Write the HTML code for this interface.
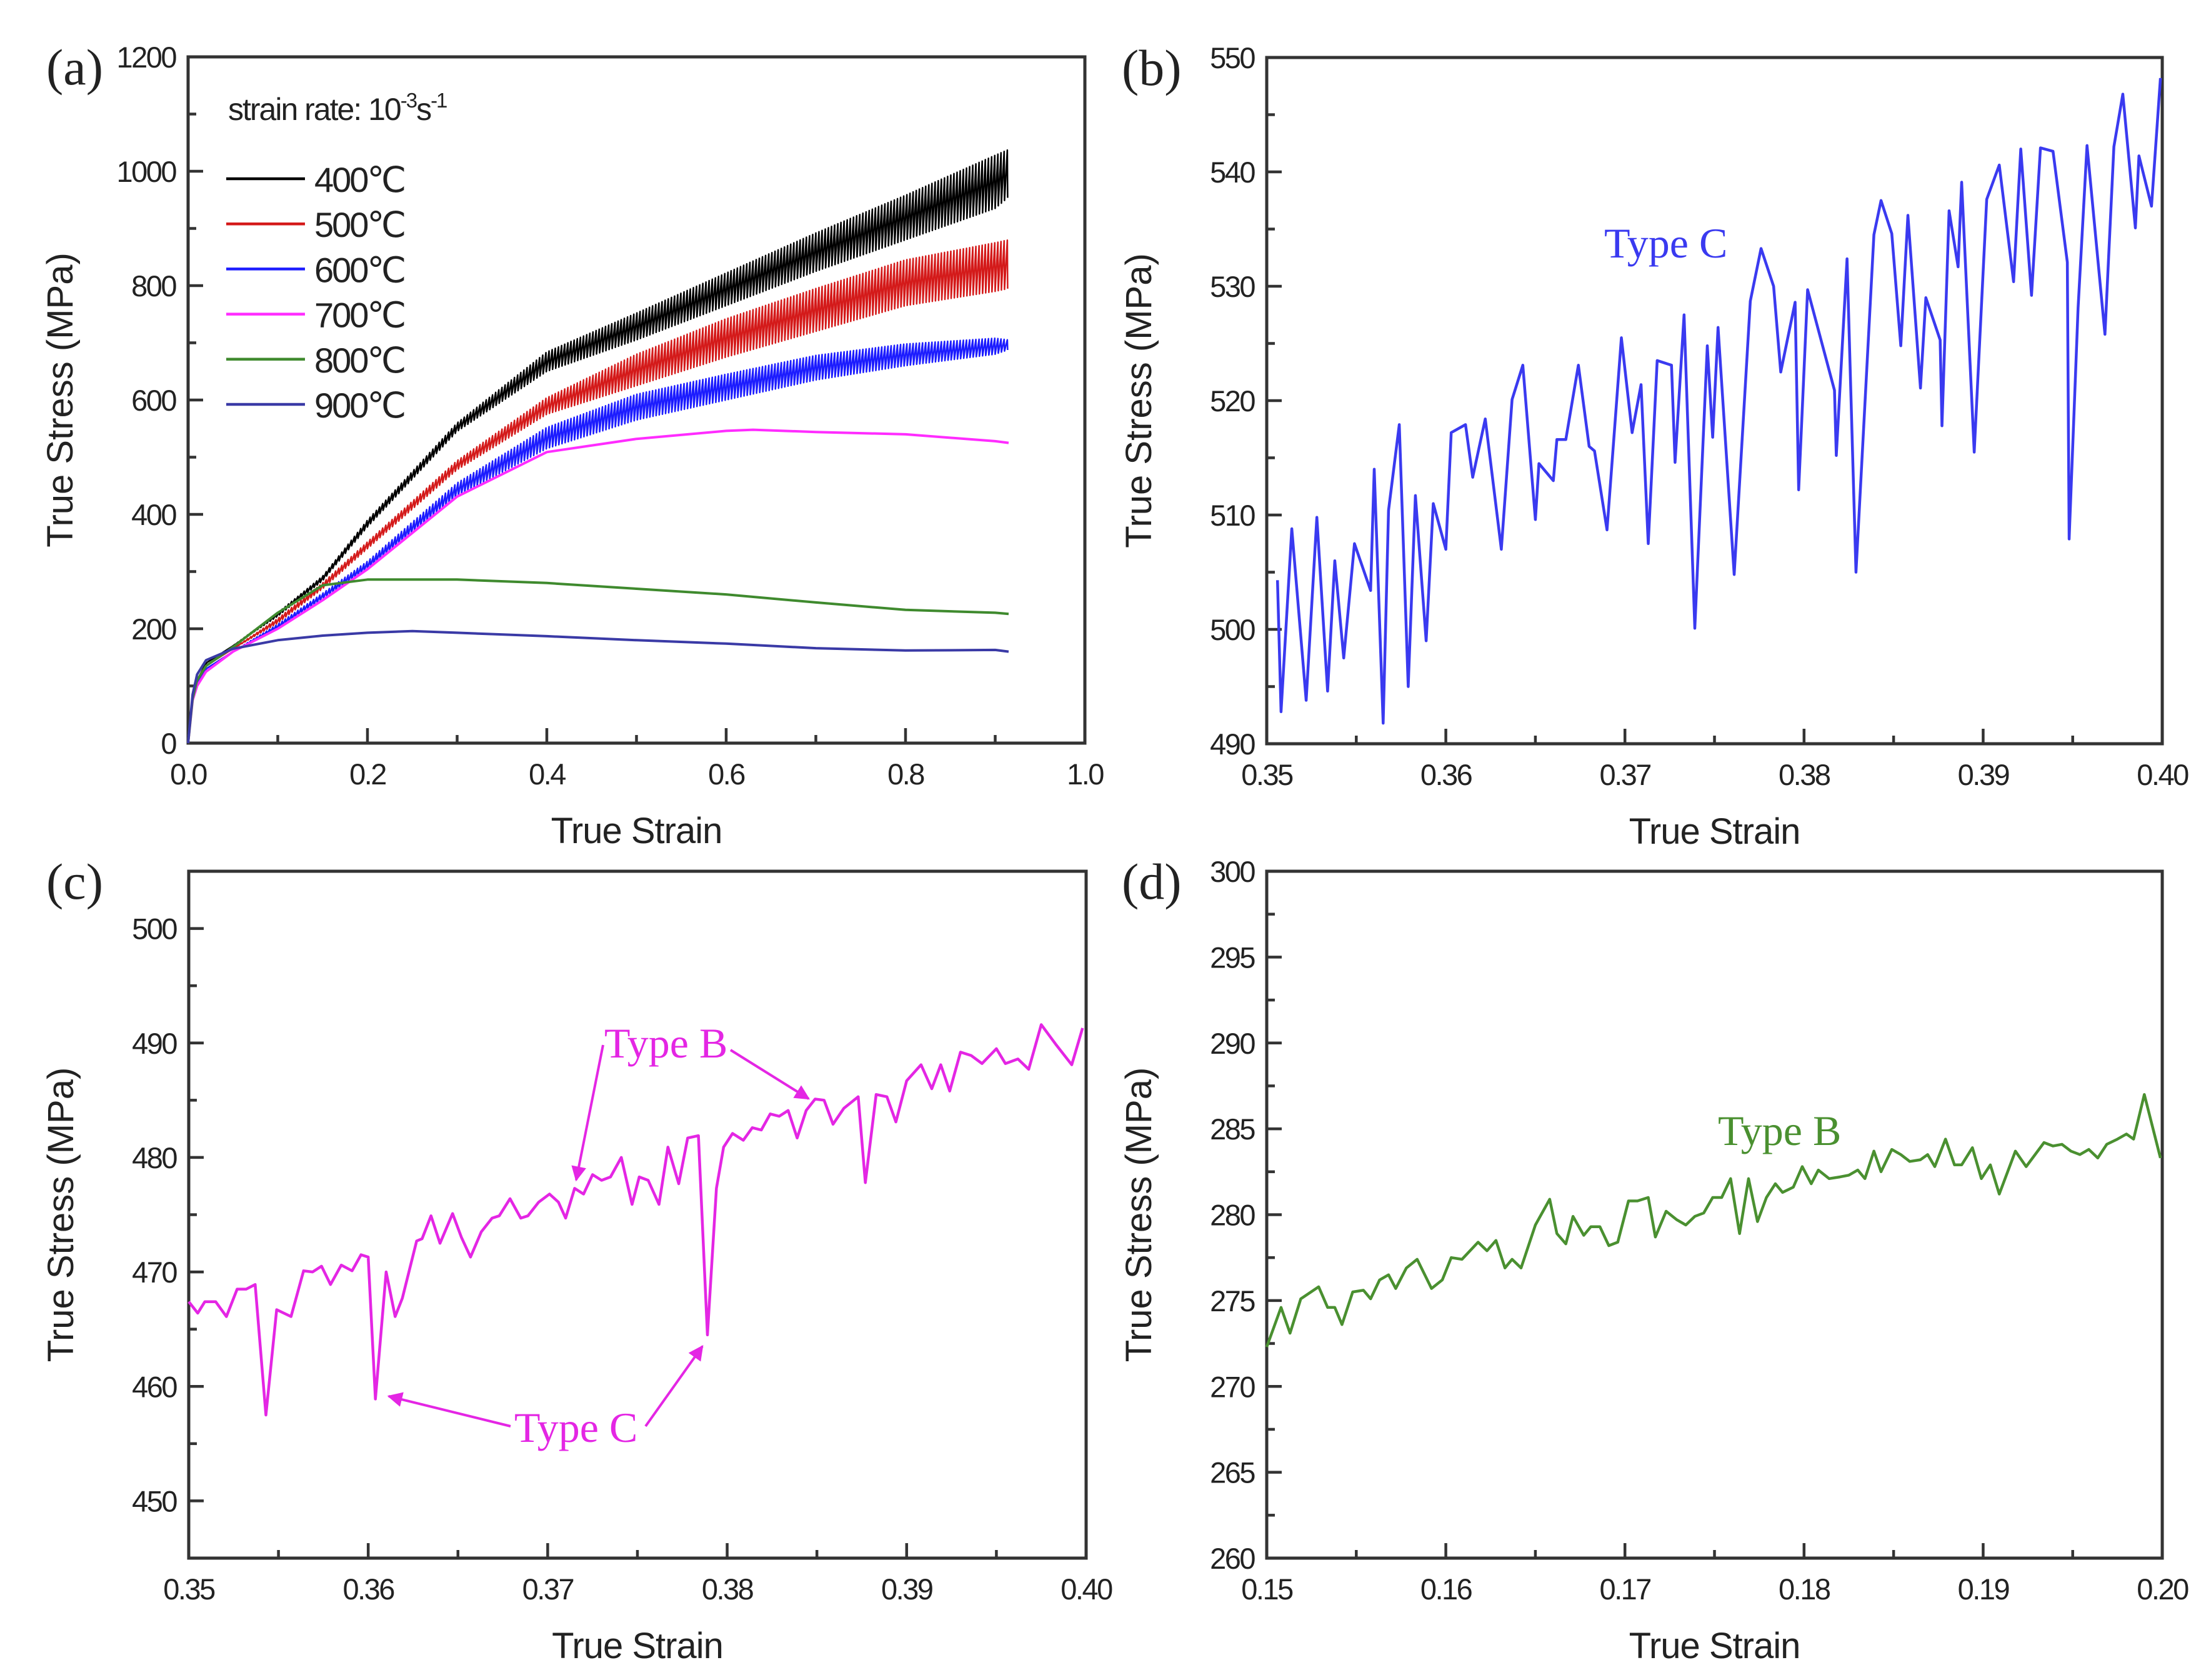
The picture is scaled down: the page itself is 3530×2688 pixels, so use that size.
<!DOCTYPE html>
<html><head><meta charset="utf-8"><style>
html,body{margin:0;padding:0;background:#fff;}
svg{display:block;}
text{font-family:"Liberation Sans",sans-serif;fill:#222;}
.serif{font-family:"Liberation Serif",serif;}
</style></head><body>
<svg id="fig" width="3530" height="2688" viewBox="0 0 3530 2688" xmlns="http://www.w3.org/2000/svg"></svg>
<script>
// ---------- Panel (a) data ----------
const aStrain = [0,0.005,0.01,0.02,0.05,0.1,0.15,0.2,0.3,0.4,0.5,0.6,0.7,0.8,0.9,0.915];
const a400Upper = [0,80,110,140,170,228,292,390,560,684,752,822,892,958,1028,1038];
const a400Lower = [0,80,110,140,170,222,284,378,545,650,705,765,825,880,935,955];
const a500Upper = [0,80,108,135,165,218,280,352,494,604,680,742,795,845,875,880];
const a500Lower = [0,80,108,135,165,210,270,340,478,575,625,675,720,765,790,795];
const a600Upper = [0,78,105,130,160,208,262,318,455,552,610,645,678,698,708,705];
const a600Lower = [0,78,105,130,160,200,252,304,432,515,565,600,635,660,680,688];
const a700Strain = [0,0.005,0.01,0.02,0.05,0.1,0.15,0.2,0.3,0.4,0.5,0.6,0.63,0.7,0.8,0.9,0.915];
const a700Stress = [0,75,100,125,160,200,250,304,431,509,532,546,548,544,540,528,525];
const a800Strain = [0,0.005,0.01,0.02,0.05,0.1,0.15,0.2,0.3,0.4,0.5,0.6,0.7,0.8,0.9,0.915];
const a800Stress = [0,78,110,135,168,228,276,286,286,280,270,260,246,233,228,226];
const a900Strain = [0,0.005,0.01,0.02,0.05,0.1,0.15,0.2,0.25,0.3,0.4,0.5,0.6,0.7,0.8,0.9,0.915];
const a900Stress = [0,85,120,145,165,180,188,193,196,193,187,180,174,166,162,163,160];
const aLegendLabels = ["400℃","500℃","600℃","700℃","800℃","900℃"];
const aXTicks = [0,0.2,0.4,0.6,0.8,1.0];
const aXTickLabels = ["0.0","0.2","0.4","0.6","0.8","1.0"];
const aYTicks = [0,200,400,600,800,1000,1200];

// ---------- Panel (b) data ----------
const bStrain = [.3506,.3508,.3514,.3522,.3528,.3534,.3538,.3543,.3549,.3558,.3560,.3565,.3568,.3574,.3579,.3583,.3589,.3593,.3600,.3603,.3611,.3615,.3622,.3631,.3637,.3643,.3650,.3652,.3660,.3662,.3667,.3674,.3680,.3683,.3690,.3698,.3704,.3709,.3713,.3718,.3726,.3728,.3733,.3739,.3746,.3749,.3752,.3761,.3770,.3776,.3783,.3787,.3795,.3797,.3802,.3817,.3818,.3824,.3829,.3839,.3843,.3849,.3854,.3858,.3865,.3868,.3876,.3877,.3881,.3886,.3888,.3895,.3902,.3909,.3917,.3921,.3927,.3932,.3939,.3947,.3948,.3953,.3958,.3968,.3973,.3978,.3985,.3987,.3994,.3999];
const bStress = [504.3,492.8,508.8,493.8,509.8,494.6,506,497.5,507.5,503.4,514,491.8,510.4,517.9,495,511.7,499,511,507,517.2,517.9,513.3,518.4,507,520.1,523.1,509.6,514.5,513.0,516.6,516.6,523.1,516,515.6,508.7,525.5,517.2,521.4,507.5,523.5,523.1,514.6,527.5,500.1,524.8,516.8,526.4,504.8,528.7,533.3,530,522.5,528.6,512.2,529.7,520.9,515.2,532.4,505,534.5,537.5,534.6,524.8,536.2,521.1,529,525.3,517.8,536.6,531.7,539.1,515.5,537.6,540.6,530.4,542,529.2,542.1,541.8,532.1,507.9,528.1,542.3,525.8,542.2,546.8,535.1,541.4,537,548.2];
const bXTicks = [0.35,0.36,0.37,0.38,0.39,0.40];
const bXTickLabels = ["0.35","0.36","0.37","0.38","0.39","0.40"];
const bYTicks = [490,500,510,520,530,540,550];

// ---------- Panel (c) data ----------
const cStrain = [.3500,.3505,.3509,.3515,.3521,.3527,.3532,.3537,.3543,.3549,.3557,.3564,.3569,.3574,.3579,.3585,.3591,.3596,.3600,.3604,.3610,.3615,.3619,.3627,.3630,.3635,.3640,.3647,.3652,.3657,.3663,.3669,.3673,.3679,.3685,.3689,.3695,.3701,.3706,.3710,.3715,.3720,.3725,.3730,.3735,.3741,.3747,.3751,.3756,.3762,.3767,.3773,.3778,.3784,.3789,.3794,.3798,.3803,.3809,.3814,.3819,.3824,.3829,.3834,.3839,.3844,.3849,.3854,.3859,.3865,.3873,.3877,.3883,.3889,.3894,.3900,.3908,.3914,.3919,.3924,.3930,.3936,.3942,.3950,.3955,.3962,.3968,.3975,.3983,.3992,.3998];
const cStress = [467.4,466.4,467.4,467.4,466.1,468.5,468.5,468.9,457.5,466.7,466.1,470.1,470.0,470.5,468.9,470.6,470.1,471.5,471.3,458.9,470,466.1,467.7,472.7,472.9,474.9,472.5,475.1,473,471.3,473.5,474.7,474.9,476.4,474.7,474.9,476.1,476.8,476.1,474.7,477.3,476.8,478.5,478,478.3,480,475.9,478.3,478,475.9,480.9,477.7,481.7,481.9,464.5,477.3,480.9,482.1,481.5,482.6,482.4,483.8,483.6,484.1,481.7,484.1,485.1,485,482.9,484.3,485.3,477.8,485.5,485.3,483.1,486.7,488.1,486,488.1,485.8,489.2,488.9,488.2,489.5,488.2,488.6,487.7,491.6,489.9,488.1,491.3];
const cXTicks = [0.35,0.36,0.37,0.38,0.39,0.40];
const cXTickLabels = ["0.35","0.36","0.37","0.38","0.39","0.40"];
const cYTicks = [450,460,470,480,490,500];

// ---------- Panel (d) data ----------
const dStrain = [.1500,.1508,.1513,.1519,.1529,.1534,.1538,.1542,.1548,.1554,.1558,.1563,.1568,.1572,.1578,.1584,.1592,.1598,.1603,.1609,.1618,.1623,.1628,.1633,.1637,.1642,.1650,.1658,.1662,.1667,.1671,.1677,.1681,.1686,.1691,.1696,.1702,.1707,.1713,.1717,.1723,.1729,.1734,.1739,.1744,.1749,.1754,.1759,.1764,.1769,.1774,.1779,.1784,.1788,.1794,.1799,.1804,.1808,.1814,.1820,.1825,.1830,.1834,.1839,.1843,.1849,.1854,.1859,.1865,.1869,.1873,.1879,.1884,.1888,.1894,.1899,.1904,.1909,.1918,.1924,.1934,.1939,.1944,.1949,.1954,.1959,.1964,.1969,.1975,.1980,.1984,.1990,.1999];
const dStress = [272.3,274.6,273.1,275.1,275.8,274.6,274.6,273.6,275.5,275.6,275.1,276.2,276.5,275.7,276.9,277.4,275.7,276.2,277.5,277.4,278.4,277.9,278.5,276.9,277.4,276.9,279.4,280.9,278.9,278.3,279.9,278.8,279.3,279.3,278.2,278.4,280.8,280.8,281,278.7,280.2,279.7,279.4,279.9,280.1,281,281,282.1,278.9,282.1,279.6,281,281.8,281.3,281.6,282.8,281.8,282.6,282.1,282.2,282.3,282.6,282.1,283.7,282.5,283.8,283.5,283.1,283.2,283.5,282.8,284.4,282.9,282.9,283.9,282.1,282.9,281.2,283.7,282.8,284.2,284,284.1,283.7,283.5,283.8,283.3,284.1,284.4,284.7,284.4,287,283.3];
const dXTicks = [0.15,0.16,0.17,0.18,0.19,0.20];
const dXTickLabels = ["0.15","0.16","0.17","0.18","0.19","0.20"];
const dYTicks = [260,265,270,275,280,285,290,295,300];

const NS = "http://www.w3.org/2000/svg";
const svg = document.getElementById("fig");
function mk(tag, attrs, parent) {
  const e = document.createElementNS(NS, tag);
  for (const k in attrs) e.setAttribute(k, attrs[k]);
  (parent || svg).appendChild(e);
  return e;
}
function txt(str, attrs, parent) { const t = mk("text", attrs, parent); t.textContent = str; return t; }
function scale(d0, d1, r0, r1) { return v => r0 + (v - d0) / (d1 - d0) * (r1 - r0); }

function panel(o) {
  const g = mk("g", {});
  
  
  const sx = scale(o.x0, o.x1, o.L, o.R), sy = scale(o.y0, o.y1, o.B, o.T);
  const tg = mk("g", {stroke:"#333","stroke-width":4.5}, g);
  
  
  o.xt.forEach((v,i) => {
    mk("line", {x1:sx(v), x2:sx(v), y1:o.B, y2:o.B-24}, tg);
    if (i < o.xt.length-1) { const m = (v + o.xt[i+1])/2; mk("line", {x1:sx(m), x2:sx(m), y1:o.B, y2:o.B-13}, tg); }
    const t = txt(o.xl[i], {x:sx(v), y:o.B+66, "text-anchor":"middle", "font-size":47, "letter-spacing":"-2.5"}, g);
    
    
  });
  const ys = o.yt[1]-o.yt[0];
  for (let v = o.yt[0]-ys; v <= o.yt[o.yt.length-1]+ys+1e-9; v += ys/2) {
    const vv = Math.round(v*1000)/1000;
    if (vv < Math.min(o.y0,o.y1)-1e-9 || vv > Math.max(o.y0,o.y1)+1e-9) continue;
    const major = o.yt.some(t => Math.abs(t-vv) < 1e-6);
    mk("line", {x1:o.L, x2:o.L+(major?24:13), y1:sy(vv), y2:sy(vv)}, tg);
  }
  o.yt.forEach(v => {
    const t = txt(String(v), {x:o.L-20, y:sy(v)+17, "text-anchor":"end", "font-size":47, "letter-spacing":"-2.5"}, g);
    
    
  });
  const fr = mk("rect", {x:o.L, y:o.T, width:o.R-o.L, height:o.B-o.T, fill:"none", stroke:"#333", "stroke-width":5}, g);
  
  
  const xt = txt("True Strain", {x:(o.L+o.R)/2, y:o.B+160, "text-anchor":"middle", "font-size":58, "letter-spacing":"-1"}, g);
  
  
  const cy = (o.T+o.B)/2;
  const yt = txt("True Stress (MPa)", {x:o.L-185, y:cy, "text-anchor":"middle", "font-size":58, transform:`rotate(-90 ${o.L-185} ${cy})`}, g);
  
  
  const pl = txt(o.label, {x:o.labelX, y:o.T+44, "font-size":82, class:"serif"}, g);
  
  
  return {g, sx, sy};
}
function polyline(g, xs, ys, sx, sy, color, w, name) {
  const p = mk("polyline", {points: xs.map((x,i)=>sx(x).toFixed(1)+","+sy(ys[i]).toFixed(1)).join(" "), fill:"none", stroke:color, "stroke-width":w, "stroke-linejoin":"round"}, g);
  
  
  return p;
}
function interp(xs, ys, x) {
  for (let i=0;i<xs.length-1;i++) if (x<=xs[i+1]) { const t=(x-xs[i])/(xs[i+1]-xs[i]); return ys[i]+t*(ys[i+1]-ys[i]); }
  return ys[ys.length-1];
}
function serrated(g, xs, up, lo, sx, sy, color, name) {
  const px=[], py=[]; let k=0;
  const end = xs[xs.length-1];
  for (let x=0; x<=end+1e-9; x+=0.0035) {
    // sawtooth: gradual rise along upper envelope, sudden drop to lower
    px.push(x); py.push(interp(xs, up, x));
    px.push(x+0.0004); py.push(interp(xs, lo, x+0.0004));
    k++;
  }
  polyline(g, px, py, sx, sy, color, 2.5, name);
}

// Panel a
const A = panel({name:"panel-a", L:301, R:1736, T:91, B:1189, x0:0, x1:1, y0:0, y1:1200, xt:aXTicks, xl:aXTickLabels, yt:aYTicks, label:"(a)", labelX:74});
const colors = ["#000000","#d41a1a","#1c1cff","#ff2cff","#3f8a2e","#3a3aa6"];
serrated(A.g, aStrain, a400Upper, a400Lower, A.sx, A.sy, colors[0], "curve-400c");
serrated(A.g, aStrain, a500Upper, a500Lower, A.sx, A.sy, colors[1], "curve-500c");
serrated(A.g, aStrain, a600Upper, a600Lower, A.sx, A.sy, colors[2], "curve-600c");
polyline(A.g, a700Strain, a700Stress, A.sx, A.sy, colors[3], 4, "curve-700c");
polyline(A.g, a800Strain, a800Stress, A.sx, A.sy, colors[4], 4, "curve-800c");
polyline(A.g, a900Strain, a900Stress, A.sx, A.sy, colors[5], 4, "curve-900c");
const sr = txt("", {x:365, y:192, "font-size":50, "letter-spacing":"-2"}, A.g);


sr.innerHTML = 'strain rate: 10<tspan dy="-20" font-size="33">-3</tspan><tspan dy="20">s</tspan><tspan dy="-20" font-size="33">-1</tspan>';
aLegendLabels.forEach((lab,i) => {
  const y = 286 + i*72.2;
  const ln = mk("line", {x1:362, x2:488, y1:y, y2:y, stroke:colors[i], "stroke-width":4.5}, A.g);
  
  
  const t = txt(lab, {x:503, y:y+21, "font-size":56, "letter-spacing":"-3"}, A.g);
  
  
});

// Panel b
const Bp = panel({name:"panel-b", L:2027, R:3460, T:92, B:1190, x0:0.35, x1:0.40, y0:490, y1:550, xt:bXTicks, xl:bXTickLabels, yt:bYTicks, label:"(b)", labelX:1795});
polyline(Bp.g, bStrain, bStress, Bp.sx, Bp.sy, "#3a3af0", 4.5, "curve-type-c");
const tb = txt("Type C", {x:2567, y:412, "font-size":68, class:"serif"}, Bp.g);


tb.style.fill = "#3a3af0";

// Panel c
const Cp = panel({name:"panel-c", L:302, R:1738, T:1394, B:2493, x0:0.35, x1:0.40, y0:445, y1:505, xt:cXTicks, xl:cXTickLabels, yt:cYTicks, label:"(c)", labelX:74});
polyline(Cp.g, cStrain, cStress, Cp.sx, Cp.sy, "#e426e4", 4.5, "curve-700c-zoom");
const mag = "#e426e4";
const defs = mk("defs", {});
const mkr = mk("marker", {id:"ah", viewBox:"0 0 10 10", refX:9, refY:5, markerWidth:6, markerHeight:6, orient:"auto"}, defs);
mk("path", {d:"M0,0 L10,5 L0,10 z", fill:mag}, mkr);
[[965,1672,922,1888],[1169,1680,1294,1758],[817,2282,622,2234],[1033,2282,1124,2154]].forEach(a => {
  const l = mk("line", {x1:a[0], y1:a[1], x2:a[2], y2:a[3], stroke:mag, "stroke-width":4, "marker-end":"url(#ah)"}, Cp.g);
  
  
});
const tcb = txt("Type B", {x:967, y:1692, "font-size":68, class:"serif"}, Cp.g);


tcb.style.fill = mag;
const tcc = txt("Type C", {x:823, y:2307, "font-size":68, class:"serif"}, Cp.g);


tcc.style.fill = mag;

// Panel d
const Dp = panel({name:"panel-d", L:2027, R:3460, T:1394, B:2493, x0:0.15, x1:0.20, y0:260, y1:300, xt:dXTicks, xl:dXTickLabels, yt:dYTicks, label:"(d)", labelX:1795});
polyline(Dp.g, dStrain, dStress, Dp.sx, Dp.sy, "#4a9030", 4.5, "curve-800c-zoom");
const tdb = txt("Type B", {x:2749, y:1832, "font-size":68, class:"serif"}, Dp.g);


tdb.style.fill = "#4a9030";
</script>
</body></html>
